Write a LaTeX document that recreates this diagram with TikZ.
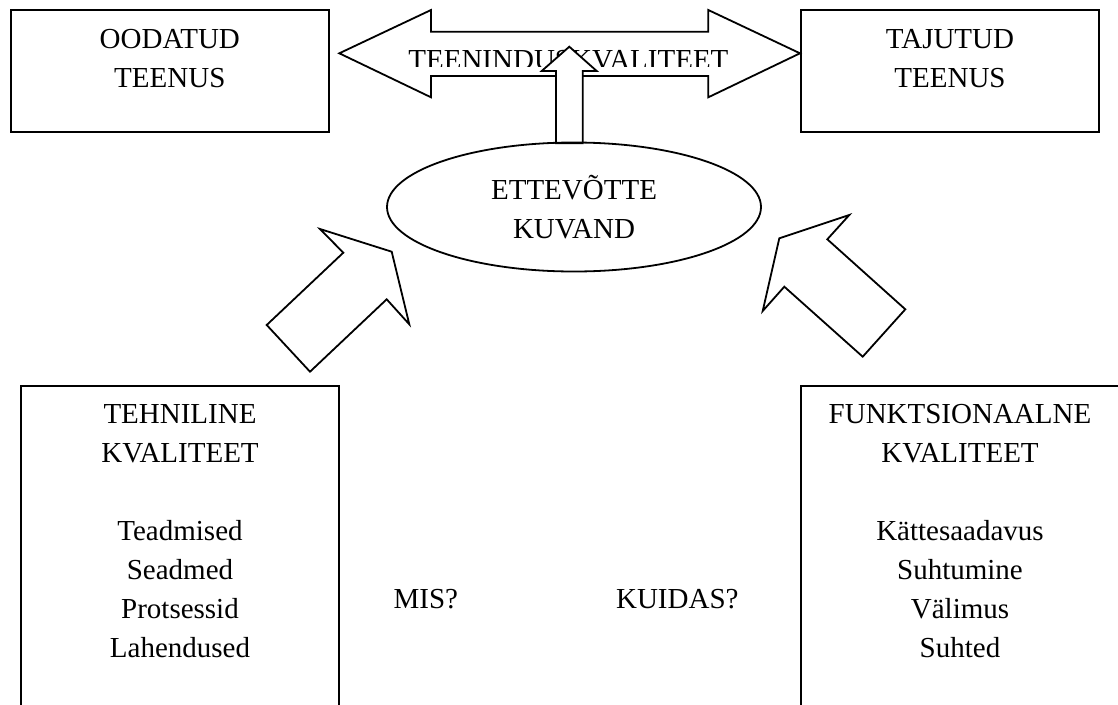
\documentclass[tikz,border=0pt]{standalone}
\usepackage{fontspec}
\setmainfont{Liberation Serif}
\usepackage{tikz}
\usetikzlibrary{shapes.geometric}

\begin{document}
\begin{tikzpicture}[
    x=1pt, y=-1pt,
    box/.style={rectangle, draw, line width=2pt, inner sep=0pt, align=center, anchor=base, font=\fontsize{29}{39}\selectfont},
    oval/.style={ellipse, draw, line width=1.8pt, inner sep=0pt, minimum width=374pt, minimum height=129pt, align=center, font=\fontsize{29}{39}\selectfont},
    plain/.style={inner sep=0pt, anchor=base, font=\fontsize{29}{39}\selectfont},
    blockarrow/.style={draw, fill=white, line width=1.8pt, line join=miter}
]

\useasboundingbox (0, 0) rectangle (1118, 704);

\node[box, minimum width=318.3pt, text height=77pt, text depth=45pt] (oodatud) at (169.8, 87) {OODATUD\\TEENUS};
\node[box, minimum width=298.6pt, text height=77pt, text depth=45pt] (tajutud) at (950, 87) {TAJUTUD\\TEENUS};

\draw[blockarrow] (339.3, 53.3) -- (431, 10) -- (431, 31.7) -- (708.3, 31.7) -- (708.3, 10) -- (800, 53.3)
    -- (708.3, 97.3) -- (708.3, 76) -- (431, 76) -- (431, 97.3) -- cycle;
\begin{scope}
    \clip (339, 10) rectangle (800, 66.5);
    \node[plain] (teenindus) at (568.4, 69) {TEENINDUSKVALITEET};
\end{scope}
\draw[blockarrow] (569.3, 46.7) -- (596.7, 71) -- (582.7, 71) -- (582.7, 143.3) -- (556, 143.3) -- (556, 71) -- (541.7, 71) -- cycle;

\node[oval] (kuvand) at (574, 207) {ETTEVÕTTE\\KUVAND};

\draw[blockarrow] (343.3, 252.7) -- (320, 229) -- (391.7, 251.7) -- (409.3, 324.3) -- (386.7, 299.3) -- (310, 371.7) -- (266.7, 325) -- cycle;
\draw[blockarrow] (827.3, 239.3) -- (849.3, 215) -- (779.3, 238.3) -- (762.7, 311) -- (784.3, 286.7) -- (862.7, 356.7) -- (905.3, 309.3) -- cycle;

\node[box, minimum width=318.6pt, text height=271pt, text depth=80pt] (tehniline) at (180, 657)
    {TEHNILINE\\KVALITEET\\[39pt]Teadmised\\Seadmed\\Protsessid\\Lahendused};
\node[box, minimum width=318.6pt, text height=271pt, text depth=80pt] (funktsionaalne) at (960, 657)
    {FUNKTSIONAALNE\\KVALITEET\\[39pt]Kättesaadavus\\Suhtumine\\Välimus\\Suhted};

\node[plain] (mis) at (425.8, 608) {MIS?};
\node[plain] (kuidas) at (677.3, 608) {KUIDAS?};

\end{tikzpicture}
\end{document}
